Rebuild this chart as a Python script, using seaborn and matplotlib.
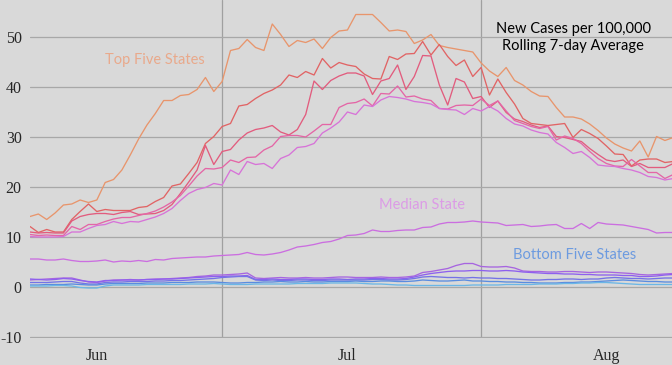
import matplotlib
matplotlib.use("Agg")
import matplotlib.pyplot as plt
import seaborn as sns
import pandas as pd
import numpy as np

# ---------------- data ----------------
dates = pd.date_range("2020-06-08", periods=78, freq="D")

top1 = [14.1, 14.6, 13.5, 14.8, 16.4, 16.6, 17.4, 16.9, 17.4, 20.9,
        21.5, 23.4, 26.4, 29.6, 32.4, 34.7, 37.3, 37.3, 38.3, 38.5,
        39.5, 41.9, 39.1, 41.1, 47.3, 47.7, 49.5, 47.9, 47.3, 52.6,
        50.5, 48.1, 49.3, 48.9, 49.6, 47.7, 49.9, 51.2, 51.4, 54.5,
        54.5, 54.5, 52.9, 51.2, 51.4, 51.1, 48.7, 49.4, 50.5, 48.3,
        47.9, 47.6, 47.3, 47.0, 44.8, 43.2, 42.1, 43.9, 41.3, 40.4,
        39.1, 38.2, 38.1, 35.9, 34.0, 34.0, 33.6, 32.6, 31.3, 29.8,
        28.6, 27.8, 27.2, 29.2, 26.0, 30.1, 29.3, 29.9]
top2 = [12.1, 10.9, 11.5, 11.0, 11.0, 13.5, 15.1, 16.6, 15.1, 15.5, 15.3, 15.3, 15.3, 15.9, 16.1, 17.1, 17.9, 20.2, 20.6, 22.7, 24.9,
        28.7, 30.1, 32.1, 32.7, 36.2, 36.5, 37.7, 38.7, 39.4, 40.4, 42.4, 41.9, 43.1, 42.4, 45.7, 43.8, 44.9, 44.4, 44.1, 42.6, 41.7, 41.6,
        46.1, 45.5, 46.6, 46.7, 49.1, 46.4, 48.5, 46.1, 44.3, 45.4, 42.1, 43.9, 38.4, 41.6, 38.9, 36.6,
        33.7, 32.7, 32.5, 32.3, 32.5, 32.7, 29.9, 31.5, 30.7, 29.7, 28.2, 26.6, 26.5, 24.2, 25.4, 25.6, 25.6, 24.9, 25.1]
top3 = [11.0, 10.8, 10.9, 10.8, 10.8, 13.2, 14.1, 14.5, 14.7, 14.7, 14.5, 14.9, 15.1, 14.5, 14.6, 14.7, 15.3, 16.5, 18.7, 21.0, 23.4,
        28.3, 24.5, 27.1, 27.5, 29.4, 30.8, 31.5, 31.8, 32.3, 31.0, 30.4, 31.5, 34.5, 41.2, 39.5, 41.3, 42.2, 42.8, 42.8, 42.2, 38.5, 41.2,
        41.7, 44.4, 39.5, 42.1, 46.3, 46.2, 40.4, 36.4, 41.7, 41.0, 37.7, 38.1, 35.9, 37.2, 34.9, 33.6,
        33.1, 32.4, 31.9, 32.2, 30.1, 29.9, 29.5, 29.1, 27.7, 26.5, 25.4, 25.1, 25.4, 24.1, 24.7, 23.9, 23.9, 23.9, 24.7]
top4 = [10.5, 10.3, 10.4, 10.3, 10.3, 12.1, 11.5, 12.5, 12.5, 13.1, 13.6, 13.9, 13.9, 14.3, 14.7, 15.2, 16.0, 17.0, 18.3, 20.2, 22.2,
        23.7, 23.6, 23.9, 25.4, 24.9, 25.9, 26.0, 27.4, 28.2, 30.1, 30.3, 30.3, 30.0, 31.2, 32.5, 32.5, 35.9, 36.7, 36.9, 37.6, 36.2, 38.7,
        38.6, 40.2, 38.0, 38.2, 37.6, 37.3, 35.7, 35.6, 36.3, 36.4, 36.3, 37.6, 36.3, 37.2, 35.2, 33.3,
        32.7, 32.1, 31.7, 32.1, 29.4, 30.2, 29.7, 28.7, 27.1, 25.7, 24.7, 24.2, 24.1, 25.5, 24.2, 22.9, 22.9, 21.7, 22.5]
top5 = [10.1, 10.0, 10.0, 10.0, 10.1, 11.0, 11.0, 11.7, 12.3, 12.5, 13.1, 12.7, 13.1, 13.0, 13.5, 14.0, 14.7, 15.7, 17.3, 18.7, 19.5,
        19.9, 20.7, 20.4, 23.4, 22.5, 25.1, 24.5, 24.7, 23.7, 25.7, 26.4, 27.9, 28.1, 28.7, 30.8, 31.8, 33.0, 35.0, 34.5, 36.4, 36.1, 37.4,
        38.1, 37.9, 37.6, 37.1, 36.9, 36.6, 35.7, 35.5, 35.4, 34.5, 35.7, 35.2, 36.1, 35.2, 33.7, 32.6,
        32.2, 31.4, 30.9, 30.6, 28.9, 27.9, 26.7, 27.1, 25.9, 24.4, 24.2, 24.1, 23.7, 23.4, 22.9, 22.1, 21.9, 21.4, 21.7]
median = [5.6, 5.6, 5.4, 5.4, 5.6, 5.3, 5.1, 5.1, 5.2, 5.4, 5.0, 5.2, 5.1, 5.3, 5.1, 5.5, 5.4, 5.7, 5.8, 5.9, 6.0, 6.0, 6.2, 6.3, 6.4, 6.5, 6.9,
          6.5, 6.4, 6.6, 6.9, 7.4, 8.0, 8.2, 8.5, 8.9, 9.1, 9.6, 10.3, 10.4, 10.7, 11.4, 11.1, 11.1, 11.3, 11.4, 11.4, 11.9, 12.0,
          12.6, 12.9, 12.9, 13.0, 13.2, 13.0, 12.9, 12.8, 12.3, 12.4, 12.5, 12.1, 12.2, 12.4, 12.5, 11.7, 11.7, 12.7, 11.7, 12.9,
          12.6, 12.5, 12.4, 12.1, 11.8, 11.5, 10.8, 10.9, 10.9]
bot1 = [1.4, 1.5, 1.6, 1.7, 1.8, 1.8, 1.4, 1.0, 0.9, 1.2, 1.4, 1.4, 1.5, 1.4, 1.5, 1.6, 1.6, 1.7, 1.8, 1.9,
        2.1, 2.2, 2.4, 2.4, 2.5, 2.6, 2.8, 1.8, 1.7, 1.8, 1.9, 1.8, 1.8, 1.9, 1.8, 1.8, 1.9, 2.0, 2.0, 1.9,
        1.9, 1.9, 2.0, 1.9, 1.9, 2.0, 2.2, 2.9, 3.1, 3.4, 3.7, 4.3, 4.7, 4.7, 4.1, 4.0, 4.0, 4.1, 3.8, 3.2,
        3.1, 3.1, 3.0, 3.0, 3.1, 3.1, 3.0, 2.9, 3.0, 3.0, 2.9, 2.8, 2.7, 2.5, 2.4, 2.5, 2.6, 2.7]
bot2 = [1.6, 1.5, 1.4, 1.5, 1.7, 1.6, 1.3, 1.1, 1.0, 1.3, 1.3, 1.4, 1.4, 1.4, 1.5, 1.5, 1.6, 1.6, 1.7, 1.8,
        1.9, 2.0, 2.1, 2.1, 2.2, 2.2, 2.3, 1.5, 1.5, 1.6, 1.5, 1.5, 1.6, 1.6, 1.5, 1.5, 1.6, 1.6, 1.5, 1.6,
        1.6, 1.7, 1.7, 1.6, 1.6, 1.7, 2.0, 2.4, 2.7, 2.9, 3.1, 3.2, 3.2, 3.3, 3.3, 3.2, 3.2, 3.3, 3.2, 3.0,
        2.9, 2.8, 2.7, 2.7, 2.6, 2.6, 2.5, 2.5, 2.4, 2.4, 2.4, 2.3, 2.3, 2.1, 2.1, 2.2, 2.4, 2.5]
bot3 = [0.9, 0.9, 0.9, 1.0, 1.1, 1.1, 0.8, 0.6, 0.6, 0.9, 1.0, 1.0, 1.1, 1.1, 1.1, 1.2, 1.2, 1.3, 1.3, 1.4,
        1.5, 1.6, 1.7, 1.9, 2.0, 2.1, 2.1, 1.4, 1.3, 1.4, 1.3, 1.3, 1.4, 1.4, 1.3, 1.3, 1.4, 1.4, 1.4, 1.4,
        1.4, 1.5, 1.5, 1.4, 1.4, 1.5, 1.7, 2.0, 2.1, 2.0, 1.9, 1.9, 1.8, 1.9, 1.8, 1.8, 1.7, 1.7, 1.6, 1.5,
        1.4, 1.4, 1.5, 1.5, 1.6, 1.6, 1.5, 1.6, 1.6, 1.8, 1.9, 1.8, 1.7, 1.7, 1.6, 1.7, 1.8, 1.8]
bot4 = [0.4, 0.4, 0.5, 0.5, 0.5, 0.6, 0.5, 0.4, 0.4, 0.6, 0.7, 0.7, 0.7, 0.7, 0.8, 0.8, 0.8, 0.9, 0.9, 0.9,
        1.0, 1.0, 1.0, 0.9, 0.8, 0.8, 0.9, 0.9, 1.0, 1.0, 1.1, 1.0, 1.0, 1.1, 1.0, 1.0, 1.1, 1.1, 1.1, 1.2,
        1.1, 1.1, 1.2, 1.2, 1.1, 1.1, 1.2, 1.4, 1.3, 1.2, 1.2, 1.3, 1.4, 1.2, 1.2, 1.1, 1.1, 1.0, 1.0, 0.9,
        0.9, 0.8, 0.8, 0.8, 0.9, 0.9, 1.0, 1.0, 1.1, 1.2, 1.3, 1.4, 1.3, 1.2, 1.1, 1.1, 1.0, 1.0]
bot5 = [0.2, 0.2, 0.2, 0.3, 0.3, 0.2, -0.1, -0.2, -0.2, 0.2, 0.4, 0.4, 0.4, 0.4, 0.5, 0.5, 0.5, 0.5, 0.5, 0.6,
        0.6, 0.6, 0.7, 0.6, 0.5, 0.5, 0.5, 0.6, 0.6, 0.6, 0.6, 0.6, 0.7, 0.7, 0.7, 0.7, 0.8, 0.8, 0.8, 0.8,
        0.7, 0.6, 0.6, 0.5, 0.4, 0.4, 0.3, 0.3, 0.3, 0.3, 0.3, 0.3, 0.3, 0.4, 0.4, 0.4, 0.4, 0.5, 0.5, 0.5,
        0.5, 0.6, 0.6, 0.6, 0.7, 0.7, 0.8, 0.8, 0.9, 0.9, 0.8, 0.7, 0.6, 0.5, 0.5, 0.5, 0.5, 0.5]

series_names = ["top1", "top2", "top3", "top4", "top5", "median",
                "bot1", "bot2", "bot3", "bot4", "bot5"]
series_values = [top1, top2, top3, top4, top5, median, bot1, bot2, bot3, bot4, bot5]

y_ticks = [-10, 0, 10, 20, 30, 40, 50]
month_labels = ["Jun", "Jul", "Aug"]
title_text = "New Cases per 100,000\nRolling 7-day Average"

# ---------------- styling ----------------
palette = {
    "top1": "#e8956c", "top2": "#e16465", "top3": "#e25c7e", "top4": "#e466a6",
    "top5": "#d773d8", "median": "#cb6ee0",
    "bot1": "#a765e0", "bot2": "#8e60ee", "bot3": "#7473e6", "bot4": "#5a8ce0", "bot5": "#6bb7e6",
}
bg = "#d9d9d9"

sns.set_theme(style="white", rc={"axes.facecolor": bg, "figure.facecolor": bg})

df = pd.concat(
    [pd.DataFrame({"date": dates, "value": v, "series": n}) for n, v in zip(series_names, series_values)],
    ignore_index=True,
)

fig = plt.figure(figsize=(6.72, 3.65), dpi=100)
ax = fig.add_axes([30 / 672, (365 - 338) / 365, 642 / 672, 338 / 365])

sns.lineplot(data=df, x="date", y="value", hue="series", palette=palette,
             legend=False, linewidth=0.95, estimator=None, sort=False, ax=ax)

ax.set_xlim(dates[0], dates[0] + pd.Timedelta(days=76.85))
ax.set_ylim(-10.2, 57.4)

# y grid / ticks
ax.set_yticks(y_ticks)
ax.set_yticklabels([str(t) for t in y_ticks], fontfamily="Liberation Serif", fontsize=11.5)
ax.grid(axis="y", color="#a8a8a8", linewidth=0.9)

# x: month boundaries as gridlines, month labels mid-month
ax.set_xticks([pd.Timestamp("2020-07-01"), pd.Timestamp("2020-08-01")])
ax.set_xticklabels(["", ""])
ax.grid(axis="x", color="#a0a0a0", linewidth=0.9)
ax.set_xticks([pd.Timestamp("2020-06-16"), pd.Timestamp("2020-07-16"), pd.Timestamp("2020-08-16")], minor=True)
ax.set_xticklabels(month_labels, minor=True, fontfamily="Liberation Serif", fontsize=11.5)
ax.tick_params(axis="both", which="both", length=0)
ax.tick_params(axis="x", which="minor", pad=7)
ax.tick_params(axis="y", pad=6)
ax.set_xlabel("")
ax.set_ylabel("")
for s in ax.spines.values():
    s.set_visible(False)

def d(days):
    return dates[0] + pd.Timedelta(days=days)

font = "Lato"
ax.text(d(15.0), 45.4, "Top Five States", color="#e9a98b", fontsize=10.5,
        family=font, ha="center", va="center")
ax.text(d(46.9), 16.4, "Median State", color="#dc9ce6", fontsize=10.5,
        family=font, ha="center", va="center")
ax.text(d(65.2), 6.4, "Bottom Five States", color="#6d9be0", fontsize=10.5,
        family=font, ha="center", va="center")
ax.text(d(65.0), 49.9, title_text, color="black", fontsize=10.5,
        family=font, ha="center", va="center", linespacing=1.25)

fig.savefig("out.png", dpi=100, facecolor=bg)
